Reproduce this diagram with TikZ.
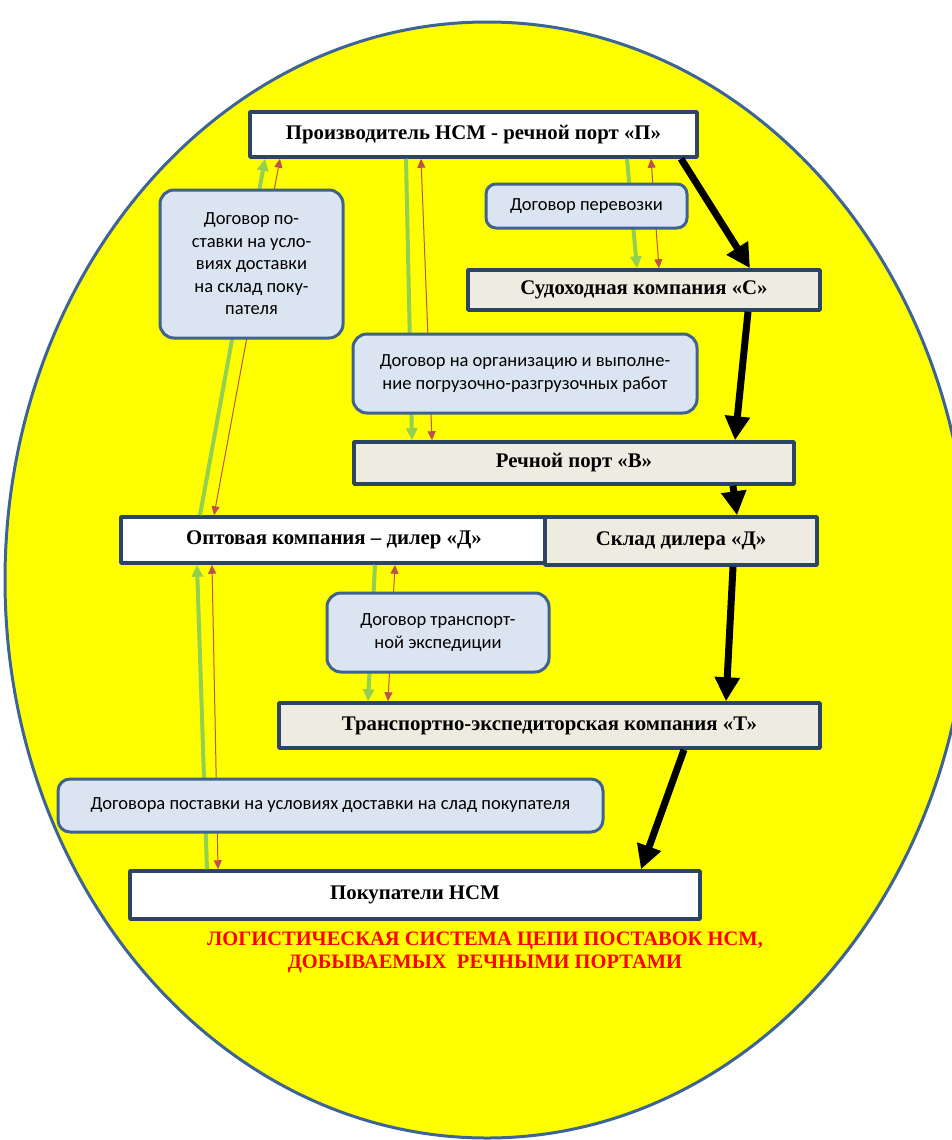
\documentclass[tikz,border=0pt]{standalone}
\usepackage{fontspec}
\setmainfont{Liberation Serif}
\newfontfamily\calib{Carlito}
\usetikzlibrary{arrows.meta}
\definecolor{yel}{HTML}{FFFF00}
\definecolor{ellborder}{HTML}{3C6494}
\definecolor{boxborder}{HTML}{2C4566}
\definecolor{beige}{HTML}{EEECE1}
\definecolor{dogfill}{HTML}{DBE5F1}
\definecolor{dogborder}{HTML}{40628F}
\definecolor{grn}{HTML}{92D050}
\definecolor{rd}{HTML}{C0504D}
\tikzset{
  every picture/.style={line join=round},
  mainbox/.style={draw=boxborder, line width=3.5pt, inner sep=0pt, font=\fontsize{20.8}{24}\selectfont\bfseries},
  dogbox/.style={draw=dogborder, fill=dogfill, line width=3pt, rounded corners=14pt, inner sep=0pt, align=center, font=\calib\fontsize{18.5}{22.5}\selectfont},
  blackarr/.style={line width=7pt, -{Triangle[length=24pt,width=24pt]}},
  greenarr/.style={grn, line width=4pt, -{Triangle[length=12pt,width=11pt]}},
  redarr/.style={rd, line width=1pt, {Triangle[length=9pt,width=8pt]}-{Triangle[length=9pt,width=8pt]}},
}

\begin{document}
\begin{tikzpicture}[x=1pt,y=-1pt]
\useasboundingbox (0,0) rectangle (952,1140);
\fill[white] (0,0) rectangle (952,1140);
\begin{scope}
\clip (0,0) rectangle (952,1140);
\draw[ellborder,fill=yel,line width=3pt] (487,580) ellipse[x radius=482,y radius=558];
\end{scope}

\node[mainbox,fill=white,minimum width=447pt,minimum height=45pt] (prod) at (473.5,134.5) {Производитель НСМ - речной порт «П»};
\node[mainbox,fill=beige,minimum width=352pt,minimum height=40pt] (sud) at (644,290) {Судоходная компания «С»};
\node[mainbox,fill=beige,minimum width=440pt,minimum height=42pt] (port) at (574,463) {Речной порт «В»};
\node[mainbox,fill=white,minimum width=426pt,minimum height=46pt] (opt) at (334,540) {Оптовая компания – дилер «Д»};
\node[mainbox,fill=beige,minimum width=272pt,minimum height=48pt] (sklad) at (681,541) {Склад дилера «Д»};
\node[mainbox,fill=beige,minimum width=541pt,minimum height=45pt] (trans) at (549.5,725.5) {Транспортно-экспедиторская компания «Т»};
\node[mainbox,fill=white,minimum width=570pt,minimum height=48pt] (pok) at (415,895) {Покупатели НСМ};

\draw[blackarr] ([xshift=207.5pt]prod.south) -- ([xshift=106pt]sud.north);
\draw[blackarr] ([xshift=104pt]sud.south) -- ([xshift=161pt]port.north);
\draw[blackarr] ([xshift=159pt]port.south) -- ([xshift=56pt]sklad.north);
\draw[blackarr] ([xshift=52pt]sklad.south) -- ([xshift=176.5pt]trans.north);
\draw[blackarr] ([xshift=134.5pt]trans.south) -- ([xshift=226pt]pok.north);

\draw[greenarr] ([xshift=-208pt]pok.north) -- ([xshift=-137pt]opt.south);
\draw[greenarr] ([xshift=-134pt]opt.north) -- ([xshift=-208.5pt]prod.south);
\draw[greenarr] ([xshift=-67.5pt]prod.south) -- ([xshift=-162pt]port.north);
\draw[greenarr] ([xshift=153.5pt]prod.south) -- ([xshift=-7pt]sud.north);
\draw[greenarr] ([xshift=41pt]opt.south) -- ([xshift=-181.5pt]trans.north);

\draw[redarr] ([xshift=-197pt]pok.north) -- ([xshift=-122pt]opt.south);
\draw[redarr] ([xshift=-120pt]opt.north) -- ([xshift=-193.5pt]prod.south);
\draw[redarr] ([xshift=-52.5pt]prod.south) -- ([xshift=-142pt]port.north);
\draw[redarr] ([xshift=177.5pt]prod.south) -- ([xshift=15pt]sud.north);
\draw[redarr] ([xshift=61pt]opt.south) -- ([xshift=-161.5pt]trans.north);

\node[dogbox,rounded corners=10pt,minimum width=201pt,minimum height=44pt] (dperev) at (586.5,206) {Договор перевозки};
\node[dogbox,minimum width=183pt,minimum height=148pt] (dpost) at (251.5,264) {Договор по-\\ставки на усло-\\виях доставки\\на склад поку-\\пателя};
\node[dogbox,minimum width=344pt,minimum height=79pt] (dorg) at (525,373.5) {Договор на организацию и выполне-\\ние погрузочно-разгрузочных работ};
\node[dogbox,minimum width=222pt,minimum height=79pt] (dexp) at (438,632.5) {Договор транспорт-\\ной экспедиции};
\node[dogbox,rounded corners=12pt,minimum width=545pt,minimum height=53pt] (dgov) at (330.5,805.5) {Договора поставки на условиях доставки на слад покупателя};

\node[red,align=center,font=\fontsize{20.5}{23}\selectfont\bfseries] (title) at (485,952) {ЛОГИСТИЧЕСКАЯ СИСТЕМА ЦЕПИ ПОСТАВОК НСМ,\\ДОБЫВАЕМЫХ \ РЕЧНЫМИ ПОРТАМИ};
\end{tikzpicture}
\end{document}
